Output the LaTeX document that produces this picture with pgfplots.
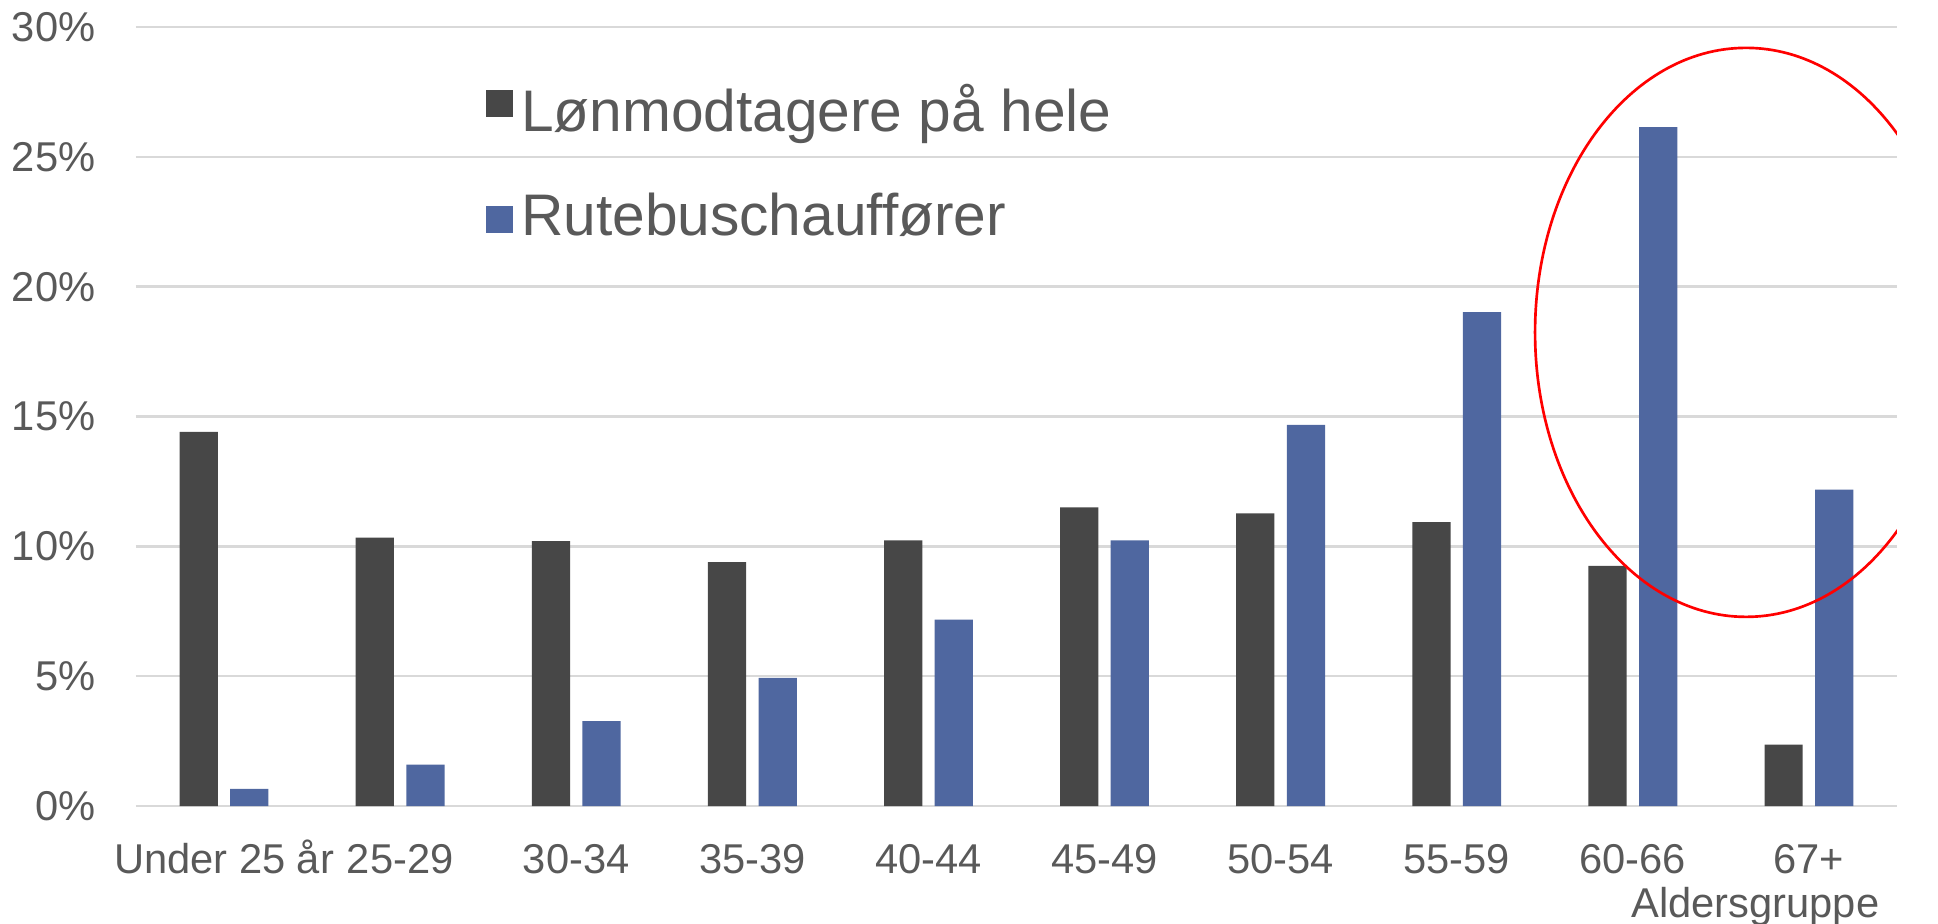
\documentclass[border=0pt]{standalone}
\usepackage{fontspec}
\setmainfont{Liberation Sans}
\usepackage{pgfplots}
\pgfplotsset{compat=1.18}
\definecolor{darkbar}{HTML}{474747}
\definecolor{bluebar}{HTML}{4F67A0}
\definecolor{txt}{HTML}{595959}
\definecolor{gridc}{HTML}{D9D9D9}
\pgfplotsset{sq legend/.style={legend image code/.code={%
  \path[draw=none, fill=none] (0bp,-4bp) rectangle (8.1bp,13bp);
  \fill[##1, draw=none, yshift=#1] (0bp,4.4bp) rectangle (8.1bp,12.4bp);}}}
\begin{document}
\begin{tikzpicture}
\useasboundingbox (-40.8bp,-35.4bp) rectangle (540.6bp,241.8bp);
\clip (-40.8bp,-35.4bp) rectangle (540.6bp,241.8bp);
\begin{axis}[
  at={(0,0)}, anchor=south west,
  scale only axis, width=528.3bp, height=233.7bp,
  ymin=0, ymax=30, xmin=-0.5, xmax=9.5,
  ytick={0,5,...,30},
  xtick={0,...,9},
  xticklabels={Under 25 år,25-29,30-34,35-39,40-44,45-49,50-54,55-59,60-66,67+},
  yticklabel={\pgfmathprintnumber{\tick}\%},
  /pgf/number format/assume math mode=true,
  ymajorgrids, grid style={gridc, line width=0.75bp},
  axis line style={draw=none},
  major tick length=0pt,
  tick style={draw=none},
  ticklabel style={font=\fontsize{12.5bp}{15bp}\selectfont, text=txt, inner sep=0pt},
  yticklabel style={xshift=-12bp},
  xticklabel style={text height=9bp, yshift=-11bp},
  xlabel={Aldersgruppe},
  xlabel style={at={(rel axis cs:0.9903,0)}, anchor=north east, inner sep=0pt,
    text height=9bp, yshift=-24.3bp, font=\fontsize{12.5bp}{15bp}\selectfont, text=txt},
  legend style={at={(0.1988,0.9401)}, anchor=north west, draw=none, fill=none,
    inner sep=0pt, outer sep=0pt, row sep=9.7bp, column sep=2.4bp,
    font=\fontsize{17.6bp}{21bp}\selectfont, text=txt,
    nodes={inner sep=0pt, text height=13bp, text depth=4bp}, cells={anchor=west}},
]
\addplot[ybar, fill=darkbar, draw=none, bar width=0.217, bar shift=-0.1437, sq legend=-4.3bp]
  coordinates {(0,14.41) (1,10.34) (2,10.2) (3,9.39) (4,10.23) (5,11.5) (6,11.27) (7,10.93) (8,9.25) (9,2.36)};
\addlegendentry{Lønmodtagere på hele}
\addplot[ybar, fill=bluebar, draw=none, bar width=0.217, bar shift=0.1437, sq legend=-8bp]
  coordinates {(0,0.66) (1,1.59) (2,3.27) (3,4.93) (4,7.18) (5,10.23) (6,14.68) (7,19.02) (8,26.14) (9,12.18)};
\addlegendentry{Rutebuschauffører}
\draw[red, line width=0.8bp] (axis cs:8.643,18.24) ellipse [x radius=63.3bp, y radius=85.35bp];
\end{axis}
\end{tikzpicture}
\end{document}
